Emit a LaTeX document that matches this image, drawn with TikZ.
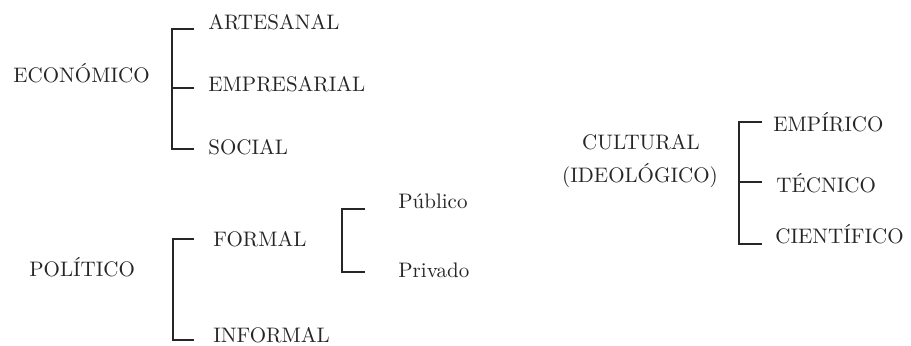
\documentclass[tikz,border=0pt]{standalone}
\usepackage{fontspec}
\usepackage{tikz}
\usetikzlibrary{positioning}

\tikzset{
    lbl/.style = {anchor = base west, inner sep = 0pt, font = \fontsize{10.5}{12}\selectfont, text = black!85},
    brace/.style = {line width = 0.6pt, black!85}
}

\begin{document}
\begin{tikzpicture}[x = 0.5pt, y = -0.5pt]
                    \useasboundingbox (0, 0) rectangle (911, 345);

                    % economico
                    \node [lbl] (eco) at (13, 82) {ECONÓMICO};
                    \node [lbl] (art) at (208, 29) {ARTESANAL};
                    \node [lbl] (emp) at (208, 91) {EMPRESARIAL};
                    \node [lbl] (soc) at (208, 154) {SOCIAL};
                    \coordinate (art-t) at (194, 29);
                    \coordinate (emp-t) at (194, 88);
                    \coordinate (soc-t) at (194, 149);

                    \draw [brace] (art-t) -- ++(-22, 0) |- (soc-t);
                    \draw [brace] (emp-t) -- ++(-22, 0);

                    % politico
                    \node [lbl] (pol) at (29, 276) {POLÍTICO};
                    \node [lbl] (for) at (213, 246) {FORMAL};
                    \node [lbl] (inf) at (213, 342) {INFORMAL};
                    \coordinate (for-t) at (194, 239);
                    \coordinate (inf-t) at (194, 340);

                    \draw [brace] (for-t) -- ++(-21, 0) |- (inf-t);

                    \node [lbl] (pub) at (398, 208) {Público};
                    \node [lbl] (pri) at (398, 277) {Privado};
                    \coordinate (pub-t) at (365, 209);
                    \coordinate (pri-t) at (365, 272);

                    \draw [brace] (pub-t) -- ++(-23, 0) |- (pri-t);

                    % cultural
                    \node [lbl, anchor = base] (cul) at (641, 149) {CULTURAL};
                    \node [lbl, anchor = base] (ide) at (640, 182) {(IDEOLÓGICO)};
                    \node [lbl] (empi) at (773, 131) {EMPÍRICO};
                    \node [lbl] (tec) at (776, 192) {TÉCNICO};
                    \node [lbl] (cie) at (775, 243) {CIENTÍFICO};
                    \coordinate (empi-t) at (762, 122);
                    \coordinate (tec-t) at (762, 182);
                    \coordinate (cie-t) at (762, 244);

                    \draw [brace] (empi-t) -- ++(-23, 0) |- (cie-t);
                    \draw [brace] (tec-t) -- ++(-23, 0);
                \end{tikzpicture}
\end{document}
